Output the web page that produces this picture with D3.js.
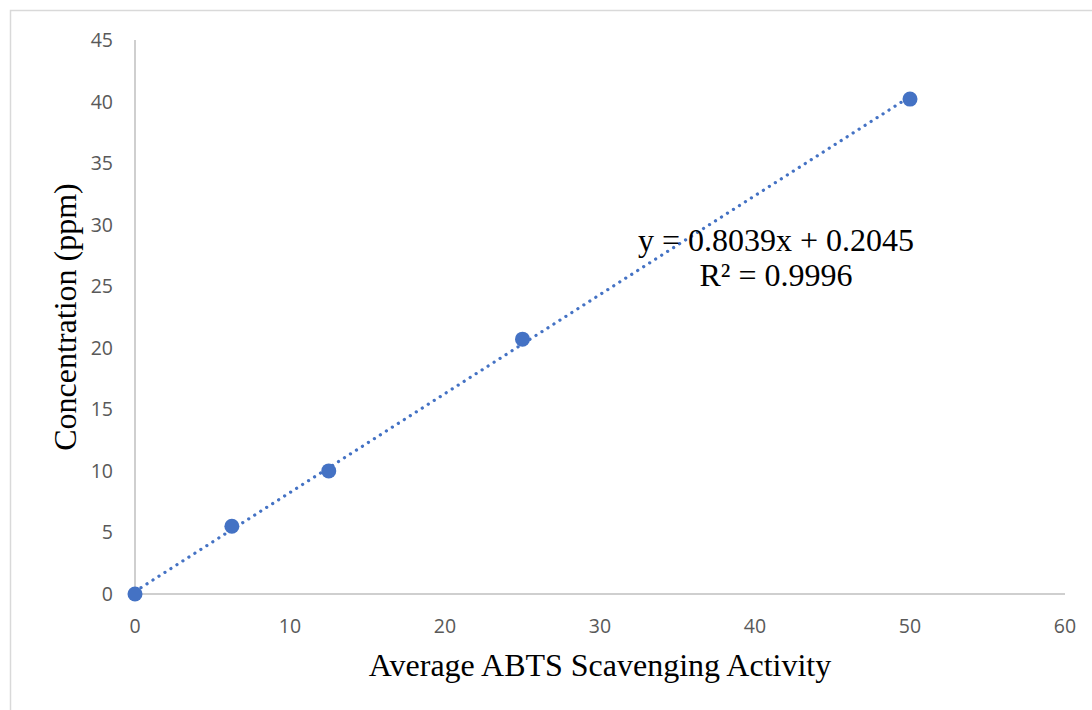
<!DOCTYPE html>
<html><head><meta charset="utf-8">
<script src="https://cdn.jsdelivr.net/npm/d3@7"></script>
<style>body{margin:0;background:#fff}</style>
</head><body>
<svg id="c" width="1092" height="710"></svg>
<script>
const xValues = [0, 6.25, 12.5, 25, 50];
const yValues = [0, 5.5, 10, 20.7, 40.2];
const xTicks = [0, 10, 20, 30, 40, 50, 60];
const yTicks = [0, 5, 10, 15, 20, 25, 30, 35, 40, 45];
const slope = 0.8039, intercept = 0.2045;
const eqLabel = "y = 0.8039x + 0.2045";
const r2Label = "R² = 0.9996";
const xTitle = "Average ABTS Scavenging Activity";
const yTitle = "Concentration (ppm)";

const svg = d3.select("#c");
svg.append("rect").attr("x",10.5).attr("y",10.5).attr("width",1100).attr("height",720)
  .attr("fill","#fff").attr("stroke","#d9d9d9").attr("stroke-width",1.5);

const x = d3.scaleLinear().domain([0,60]).range([135,1065]);
const y = d3.scaleLinear().domain([0,45]).range([594,40]);

svg.append("line").attr("x1",x(0)).attr("x2",x(60)).attr("y1",y(0)).attr("y2",y(0))
  .attr("stroke","#bfbfbf").attr("stroke-width",1.5);
svg.append("line").attr("x1",x(0)).attr("x2",x(0)).attr("y1",y(0)).attr("y2",y(45))
  .attr("stroke","#bfbfbf").attr("stroke-width",1.5);

const tickFont = "'Open Sans', sans-serif";
svg.append("g").selectAll("text").data(xTicks).join("text")
  .attr("x",d=>x(d)).attr("y",633).attr("text-anchor","middle")
  .attr("font-family",tickFont).attr("font-size",19.5).attr("fill","#595959").text(d=>d);
svg.append("g").selectAll("text").data(yTicks).join("text")
  .attr("x",113).attr("y",d=>y(d)+7).attr("text-anchor","end")
  .attr("font-family",tickFont).attr("font-size",19.5).attr("fill","#595959").text(d=>d);

const x0 = d3.min(xValues), x1 = d3.max(xValues);
svg.append("line").attr("x1",x(x0)).attr("y1",y(slope*x0+intercept))
  .attr("x2",x(x1)).attr("y2",y(slope*x1+intercept))
  .attr("stroke","#4472c4").attr("stroke-width",3.2).attr("stroke-linecap","round")
  .attr("stroke-dasharray","0.1 7");

svg.append("g").selectAll("circle").data(xValues.map((v,i)=>[v,yValues[i]])).join("circle")
  .attr("cx",d=>x(d[0])).attr("cy",d=>y(d[1])).attr("r",7.5).attr("fill","#4472c4");

const serif = "'Liberation Serif', 'Times New Roman', serif";
svg.append("text").attr("x",776).attr("y",251).attr("text-anchor","middle")
  .attr("font-family",serif).attr("font-size",32).attr("fill","#000").text(eqLabel);
svg.append("text").attr("x",776).attr("y",286).attr("text-anchor","middle")
  .attr("font-family",serif).attr("font-size",32).attr("fill","#000").text(r2Label);

svg.append("text").attr("x",600).attr("y",676).attr("text-anchor","middle")
  .attr("font-family",serif).attr("font-size",32).attr("fill","#000").text(xTitle);
svg.append("text").attr("transform","translate(76,317) rotate(-90)").attr("text-anchor","middle")
  .attr("font-family",serif).attr("font-size",32).attr("fill","#000").text(yTitle);
</script>
</body></html>
